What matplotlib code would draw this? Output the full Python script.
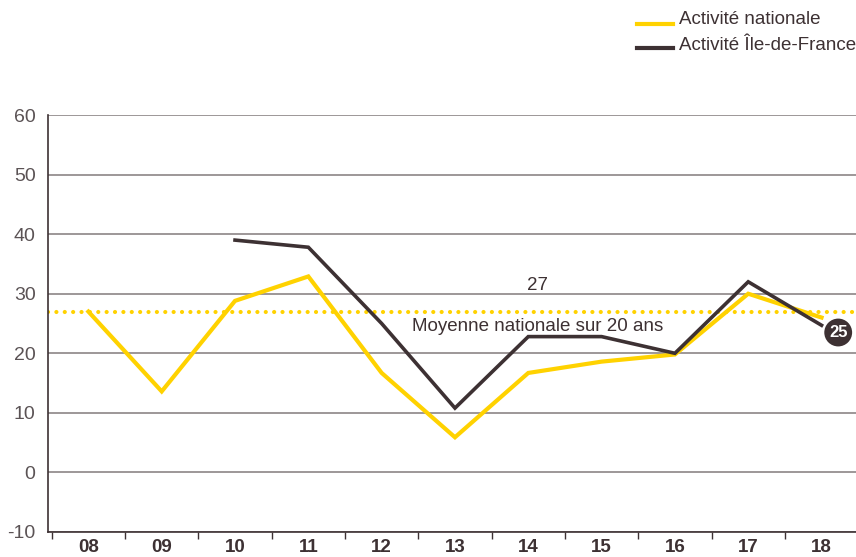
import matplotlib
matplotlib.use("Agg")
import matplotlib.pyplot as plt
from matplotlib.lines import Line2D

plt.rcParams['font.family'] = ['Liberation Sans', 'DejaVu Sans']
plt.rcParams['axes.unicode_minus'] = False

years = ["08", "09", "10", "11", "12", "13", "14", "15", "16", "17", "18"]
nationale = [27, 13.6, 28.8, 32.9, 16.7, 5.9, 16.7, 18.6, 19.8, 30, 26]
idf_years = ["10", "11", "12", "13", "14", "15", "16", "17", "18"]
idf = [39, 37.8, 25, 10.8, 22.8, 22.8, 20, 32, 24.7]
moyenne = 27
last_label = "25"

YELLOW = "#FFD200"
DARK = "#3d3133"
GRID = "#8c8586"
TXT = "#3d3133"

fig = plt.figure(figsize=(8.56, 5.57), dpi=100)
ax = fig.add_axes([48/856, 1-532/557, 1-48/856, (532-115)/557])

x_nat = list(range(len(years)))
x_idf = [years.index(y) for y in idf_years]

ax.set_ylim(-10, 60)
ax.set_xlim(-0.551, 10.47)
ax.set_yticks(range(-10, 61, 10))
ax.yaxis.grid(True, color=GRID, linewidth=1.2)
ax.set_axisbelow(True)

ax.axhline(moyenne, color=YELLOW, linewidth=3, linestyle=(0, (0.01, 2.0)),
           dash_capstyle='round', zorder=2)
ax.plot(x_nat, nationale, color=YELLOW, linewidth=3.0, solid_joinstyle='miter', zorder=3)
ax.plot(x_idf, idf, color=DARK, linewidth=2.6, solid_joinstyle='miter', zorder=4)

ax.text(6.13, moyenne + 3.0, str(moyenne), ha='center', va='bottom', fontsize=13.5, color=TXT)
ax.text(6.13, moyenne - 1.1, "Moyenne nationale sur 20 ans", ha='center', va='top',
        fontsize=13.5, color=TXT)

# end label
ax.annotate(last_label, xy=(x_idf[-1], idf[-1]), xytext=(12, -5.2), textcoords='offset points',
            ha='center', va='center', fontsize=12, fontweight='bold', color='white',
            bbox=dict(boxstyle='circle,pad=0.28', fc=DARK, ec='none'), zorder=6,
            annotation_clip=False)

for s in ['top', 'right']:
    ax.spines[s].set_visible(False)
for s in ['left', 'bottom']:
    ax.spines[s].set_color(DARK)
    ax.spines[s].set_linewidth(1.2)

ax.set_xticks(x_nat)
ax.set_xticklabels(years, fontsize=13.5, fontweight='bold', color=TXT)
ax.set_xticks([i + 0.5 for i in range(-1, len(years) - 1)], minor=True)
ax.tick_params(axis='x', which='major', length=0, pad=5)
ax.tick_params(axis='x', which='minor', length=5, color=DARK, width=1)
ax.tick_params(axis='y', length=0, pad=9, labelsize=14, labelcolor="#5b5355")

# legend
fig.add_artist(Line2D([637/856, 673/856], [1-24/557, 1-24/557], color=YELLOW, linewidth=3))
fig.add_artist(Line2D([637/856, 673/856], [1-48/557, 1-48/557], color=DARK, linewidth=3))
fig.text(679/856, 1-20/557, "Activité nationale", fontsize=13.5, color=TXT, va='center', ha='left')
fig.text(679/856, 1-45/557, "Activité Île-de-France", fontsize=13.5, color=TXT, va='center', ha='left')

fig.savefig("out.png", dpi=100)
